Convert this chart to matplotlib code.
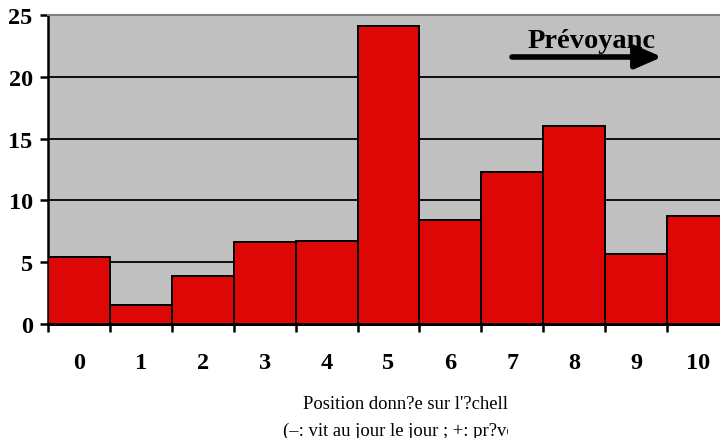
import numpy as np
import matplotlib.pyplot as plt
from matplotlib.transforms import Bbox

positions = [0, 1, 2, 3, 4, 5, 6, 7, 8, 9, 10]
values = [5.4, 1.5, 3.9, 6.6, 6.7, 24.1, 8.4, 12.3, 16.0, 5.7, 8.7]
y_ticks = [0, 5, 10, 15, 20, 25]

plt.rcParams['font.family'] = ['Liberation Serif', 'DejaVu Serif']

fig = plt.figure(figsize=(7.2, 4.39), dpi=100)
W, H = 720, 439
ax = fig.add_axes([48 / W, 1 - 325 / H, 681 / W, 309 / H])
ax.set_facecolor('#C0C0C0')

ax.bar(positions, values, width=1.0, color='#DD0806', edgecolor='black',
       linewidth=1.4, zorder=3)

ax.set_xlim(-0.5, 10.5)
ax.set_ylim(0, 25)
ax.set_yticks(y_ticks)
ax.set_yticklabels([str(t) for t in y_ticks], fontsize=17.5, fontweight='bold')
ax.set_xticks(positions)
ax.set_xticklabels([str(p) for p in positions], fontsize=17.5, fontweight='bold')
ax.set_xticks(np.arange(-0.5, 11, 1.0), minor=True)
ax.tick_params(axis='x', which='major', length=0, pad=20)
ax.tick_params(axis='x', which='minor', length=6, width=1.8, direction='out')
ax.tick_params(axis='y', length=6, width=1.8, direction='out', pad=5)

ax.yaxis.grid(True, color='black', linewidth=1.3, zorder=1)
ax.set_axisbelow(True)

ax.spines['left'].set_linewidth(1.8)
ax.spines['bottom'].set_linewidth(2.2)
ax.spines['top'].set_color('#808080')
ax.spines['top'].set_linewidth(1.5)
ax.spines['right'].set_visible(False)

# "Prévoyance" label with its arrow, cut off by the text box edge
t = fig.text(528 / W, 1 - 48 / H, 'Prévoyance', fontsize=20.5, fontweight='bold',
             ha='left', va='baseline')
t.set_clip_box(Bbox.from_extents(0, 0, 655, H))
t.set_clip_on(True)
ax.annotate('', xy=(662 / W, 1 - 58 / H), xytext=(512 / W, 1 - 58 / H),
            xycoords='figure fraction', textcoords='figure fraction',
            arrowprops=dict(arrowstyle='-|>,head_length=1.6,head_width=0.7',
                            color='black', lw=4, shrinkA=0, shrinkB=0),
            zorder=5)

# axis caption, clipped on the right
clip = Bbox.from_extents(0, 0, 508, H)
for x, y, s in [(303, 405, "Position donn?e sur l'?chelle"),
                (283, 431, '(–: vit au jour le jour ; +: pr?voyant)')]:
    c = fig.text(x / W, 1 - y / H, s, fontsize=13.4, ha='left', va='center')
    c.set_clip_box(clip)
    c.set_clip_on(True)

fig.savefig('out.png', dpi=100)
